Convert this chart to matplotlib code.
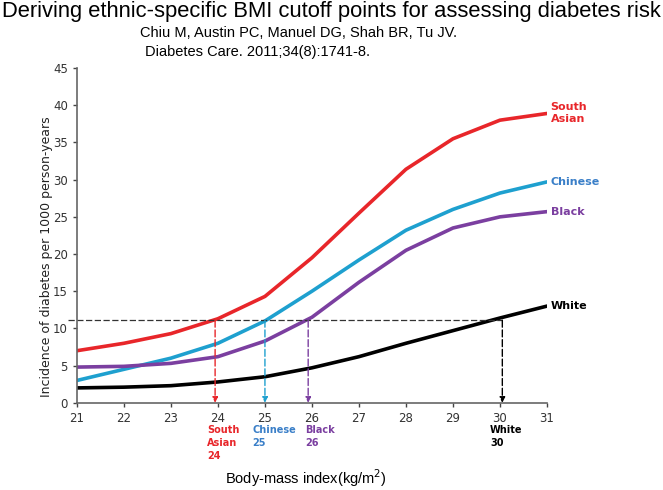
import matplotlib.pyplot as plt

bmi = [21, 22, 23, 24, 25, 26, 27, 28, 29, 30, 31]
south_asian = [7.0, 8.0, 9.3, 11.3, 14.3, 19.5, 25.5, 31.4, 35.5, 38.0, 38.9]
chinese = [3.0, 4.5, 6.0, 8.0, 11.0, 15.0, 19.2, 23.2, 26.0, 28.2, 29.7]
black = [4.8, 4.9, 5.3, 6.2, 8.3, 11.5, 16.2, 20.5, 23.5, 25.0, 25.7]
white = [2.0, 2.1, 2.3, 2.8, 3.5, 4.7, 6.2, 8.0, 9.7, 11.4, 13.0]

groups = ['South\nAsian', 'Chinese', 'Black', 'White']
cutoffs = [23.94, 25.0, 25.92, 30.05]
cutoff_labels = ['South\nAsian\n24', 'Chinese\n25', 'Black\n26', 'White\n30']
threshold = 11.1

line_colors = ['#e8262a', '#1ea0cf', '#7b3fa0', '#000000']
text_colors = ['#e8262a', '#3a7fc8', '#7b3fa0', '#000000']

fig = plt.figure(figsize=(6.63, 4.9), dpi=100)
ax = fig.add_axes([0.116, 0.178, 0.709, 0.683])

series = [south_asian, chinese, black, white]
for y, c in zip(series, line_colors):
    ax.plot(bmi, y, color=c, lw=2.6, solid_capstyle='round')

# horizontal threshold line
ax.plot([20.8, 30.05], [threshold, threshold], ls=(0, (5, 2)), color='#333333', lw=0.9, clip_on=False)

# dashed arrows down to x axis
for xc, c in zip(cutoffs, line_colors):
    ax.annotate('', xy=(xc, 0), xytext=(xc, threshold),
                arrowprops=dict(arrowstyle='-|>', color=c, lw=1.0, ls=(0, (5, 2)),
                                mutation_scale=8, shrinkA=0, shrinkB=0))

# right-hand group labels
label_y = [39.0, 29.7, 25.7, 13.0]
for g, yy, tc in zip(groups, label_y, text_colors):
    ax.text(31.08, yy, g, color=tc, fontsize=8, fontweight='bold', va='center', ha='left',
            linespacing=1.25)

# cutoff labels below axis
label_dx = [-0.17, -0.26, -0.07, -0.26]
for xc, dx, lab, tc in zip(cutoffs, label_dx, cutoff_labels, text_colors):
    ax.text(xc + dx, -3.0, lab, color=tc, fontsize=7, fontweight='bold',
            va='top', ha='left', linespacing=1.35)

ax.set_xlim(21, 31)
ax.set_ylim(0, 45)
ax.set_xticks(range(21, 32))
ax.set_yticks(range(0, 46, 5))
for s in ['top', 'right']:
    ax.spines[s].set_visible(False)
for s in ['left', 'bottom']:
    ax.spines[s].set_color('#666666')
    ax.spines[s].set_linewidth(1.2)
ax.tick_params(colors='#444444', labelcolor='#333333', labelsize=8.5, length=3, width=1)
ax.set_ylabel('Incidence of diabetes per 1000 person-years', fontsize=9, color='#222222')
ax.yaxis.set_label_coords(-0.05, 0.436)

fig.text(0.462, 0.025, 'Body-mass index(kg/m$^2$)', fontsize=10.5, ha='center', va='center',
         family='Liberation Sans')

fig.text(0.003, 0.997, 'Deriving ethnic-specific BMI cutoff points for assessing diabetes risk',
         fontsize=15.8, family='Liberation Sans', ha='left', va='top')
fig.text(0.211, 0.932, 'Chiu M, Austin PC, Manuel DG, Shah BR, Tu JV.',
         fontsize=10.5, family='Liberation Sans', ha='left', va='center')
fig.text(0.219, 0.893, 'Diabetes Care. 2011;34(8):1741-8.',
         fontsize=10.5, family='Liberation Sans', ha='left', va='center')

fig.savefig('out.png', dpi=100)
